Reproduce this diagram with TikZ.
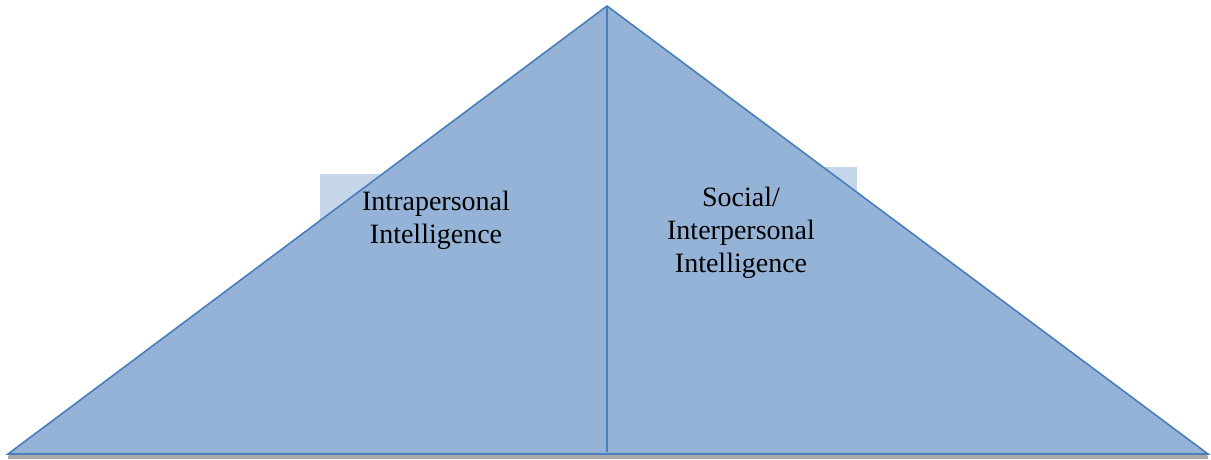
\documentclass[tikz,border=0pt]{standalone}
\usepackage{fontspec}
\setmainfont{Liberation Serif}
\definecolor{triFill}{RGB}{149,179,215}
\definecolor{triLine}{RGB}{74,126,187}
\definecolor{boxFill}{RGB}{198,214,234}
\definecolor{shadowC}{RGB}{170,170,170}
\begin{document}
\begin{tikzpicture}[x=1pt,y=-1pt,
  tri/.style={fill=triFill,draw=triLine,line width=1.6pt,line join=miter},
  divider/.style={draw=triLine,line width=1.6pt},
  tbox/.style={fill=boxFill,draw=none},
  label/.style={font=\fontsize{28}{33}\selectfont,align=center,inner sep=0pt,anchor=north,text=black}]
\useasboundingbox (0,0) rectangle (1211,460);
% text boxes behind the triangle
\fill[tbox] (320,174) rectangle (560,300);
\fill[tbox] (640,167) rectangle (857,310);
% shadow
\fill[shadowC] (8,456) -- (607,9) -- (1208,456) -- (1208,459) -- (8,459) -- cycle;
% triangle
\coordinate (apex) at (607,6);
\coordinate (bl) at (8,454);
\coordinate (br) at (1208,454);
\coordinate (bm) at (607,452);
\draw[tri] (bl) -- (apex) -- (br) -- cycle;
\draw[divider] (apex) -- (bm);
% labels
\node[label] (intra) at (436,191) {Intrapersonal\\Intelligence};
\node[label] (inter) at (741,187) {Social/\\Interpersonal\\Intelligence};
\end{tikzpicture}
\end{document}
